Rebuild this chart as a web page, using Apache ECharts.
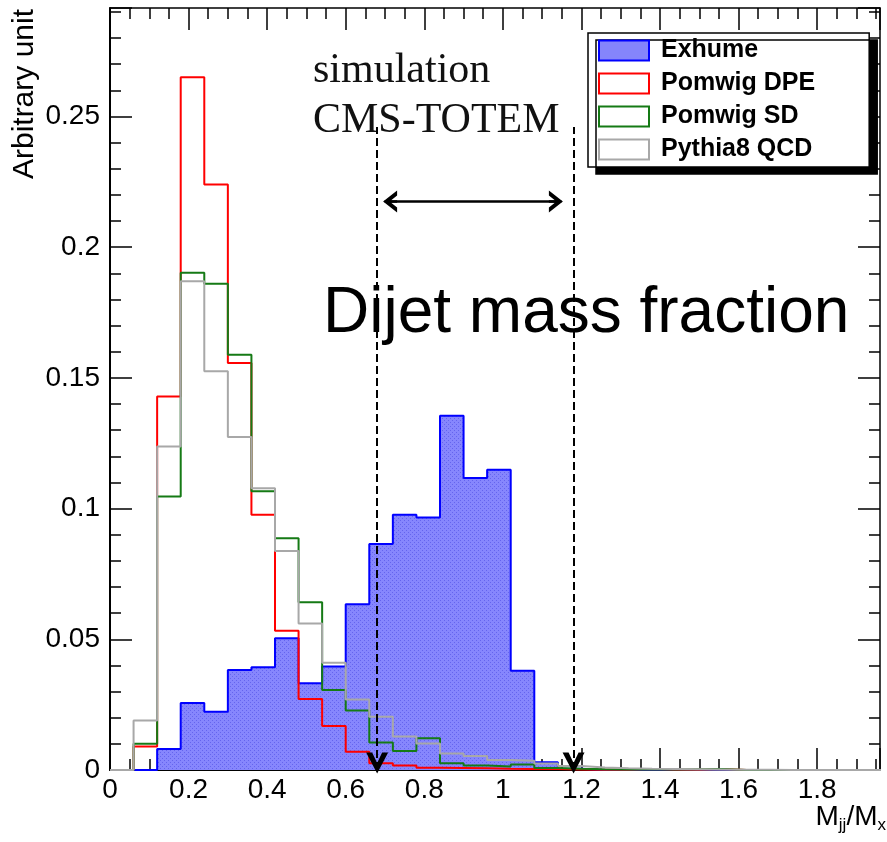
<!DOCTYPE html>
<html>
<head>
<meta charset="utf-8">
<script src="https://cdn.jsdelivr.net/npm/echarts@6/dist/echarts.min.js"></script>
<style>
  html, body { margin: 0; padding: 0; background: #fff; }
  #chart { width: 887px; height: 842px; }
</style>
</head>
<body>
<div id="chart"></div>
<script>
// Bin edges of the M_jj/M_x histograms (width 0.06)
const binEdges = [0, 0.06, 0.12, 0.18, 0.24, 0.30, 0.36, 0.42, 0.48, 0.54, 0.60,
  0.66, 0.72, 0.78, 0.84, 0.90, 0.96, 1.02, 1.08, 1.14, 1.20, 1.26, 1.32, 1.38,
  1.44, 1.50, 1.56, 1.62, 1.68, 1.74, 1.80, 1.86, 1.92, 1.98];

// Normalised bin contents, one value per bin
const exhume = [0, 0, 0.0080, 0.0256, 0.0223, 0.0383, 0.0393, 0.0504, 0.0332, 0.0396,
  0.0634, 0.0865, 0.0976, 0.0966, 0.1355, 0.1117, 0.1149, 0.0380, 0.0030, 0.0005,
  0, 0, 0, 0, 0, 0, 0, 0, 0, 0, 0, 0, 0];
const pomwigDPE = [0, 0.0090, 0.1429, 0.2650, 0.2240, 0.1557, 0.0976, 0.0533, 0.0272, 0.0168,
  0.0070, 0.0026, 0.0017, 0.0009, 0.0008, 0.0007, 0.0005, 0.0004, 0.0004, 0.0002,
  0.0001, 0.0001, 0.0004, 0.0001, 0.0001, 0.0004, 0, 0, 0, 0, 0, 0, 0];
const pomwigSD = [0, 0.0100, 0.1046, 0.1902, 0.1860, 0.1589, 0.1066, 0.0887, 0.0642, 0.0306,
  0.0228, 0.0105, 0.0073, 0.0121, 0.0026, 0.0017, 0.0013, 0.0021, 0.0008, 0.0005,
  0.0003, 0.0002, 0.0002, 0.0002, 0.0003, 0.0004, 0, 0, 0, 0, 0, 0, 0];
const pythia8QCD = [0, 0.0189, 0.1238, 0.1870, 0.1525, 0.1274, 0.1078, 0.0838, 0.0560, 0.0410,
  0.0270, 0.0204, 0.0128, 0.0101, 0.0063, 0.0054, 0.0038, 0.0035, 0.0025, 0.0015,
  0.0010, 0.0007, 0.0005, 0.0004, 0.0003, 0.0002, 0.0001, 0.0001, 0, 0, 0, 0, 0];

const seriesNames = ['Exhume', 'Pomwig DPE', 'Pomwig SD', 'Pythia8 QCD'];

// Axis settings
const xMin = 0, xMax = 1.96, xStep = 0.2;
const yMin = 0, yMax = 0.2915, yStep = 0.05;

// Dijet mass fraction window and its double arrow
const windowEdges = [0.68, 1.18];
const windowTop = 0.246;
const arrowSpan = [0.713, 1.135];
const arrowLevel = 0.2175;

// Turn bin contents into a stepped outline (ROOT-style histogram)
function histPoints(values) {
  const pts = [[binEdges[0], 0]];
  values.forEach((v, i) => pts.push([binEdges[i], v]));
  const n = values.length;
  pts.push([binEdges[n], values[n - 1]]);
  pts.push([binEdges[n], 0]);
  return pts;
}

// Dotted fill used for the Exhume histogram
const dotCanvas = document.createElement('canvas');
dotCanvas.width = 4; dotCanvas.height = 4;
(function () {
  const c = dotCanvas.getContext('2d');
  c.fillStyle = '#8686fd';
  c.fillRect(0, 0, 4, 4);
  c.fillStyle = '#6464ee';
  c.fillRect(0, 0, 1, 1);
  c.fillRect(2, 2, 1, 1);
})();

// Open chevrons: downward "v" at the axis, arrow heads for the double arrow
const vDown = 'path://M0,0 L11,21 L22,0 L16,0 L11,10.5 L6,0 Z';
const headUp = 'path://M0,14 L11,0 L22,14 L17,14 L11,6.5 L5,14 Z M9.7,1 L12.3,1 L12.3,14 L9.7,14 Z';

const sans = 'Liberation Sans, Arial, Helvetica, sans-serif';
const serif = 'Liberation Serif, Times New Roman, serif';

function histSeries(name, values, color, extra) {
  return Object.assign({
    name: name,
    type: 'line',
    step: 'end',
    data: histPoints(values),
    showSymbol: false,
    symbol: 'none',
    clip: true,
    lineStyle: { color: color, width: 2 },
    itemStyle: { color: color },
    emphasis: { disabled: true },
    animation: false
  }, extra || {});
}

const chart = echarts.init(document.getElementById('chart'), null, { renderer: 'canvas' });

const axisTickStyle = { color: '#000', width: 1.5 };

chart.setOption({
  backgroundColor: '#fff',
  animation: false,
  grid: { left: 110, right: 7, top: 8, bottom: 72 },
  xAxis: [
    {
      type: 'value', position: 'bottom', min: xMin, max: xMax, interval: xStep,
      axisLine: { show: true, onZero: false, lineStyle: { color: '#000', width: 2 } },
      axisTick: { show: true, inside: true, length: 22, lineStyle: axisTickStyle },
      minorTick: { show: true, splitNumber: 4, length: 11, lineStyle: axisTickStyle },
      axisLabel: { show: true, margin: 6, color: '#000', fontSize: 28, fontFamily: sans, showMaxLabel: false },
      splitLine: { show: false }
    },
    {
      type: 'value', position: 'top', min: xMin, max: xMax, interval: xStep,
      axisLine: { show: true, onZero: false, lineStyle: { color: '#000', width: 1.5 } },
      axisTick: { show: true, inside: true, length: 22, lineStyle: axisTickStyle },
      minorTick: { show: true, splitNumber: 4, length: 11, lineStyle: axisTickStyle },
      axisLabel: { show: false },
      splitLine: { show: false }
    }
  ],
  yAxis: [
    {
      type: 'value', position: 'left', min: yMin, max: yMax, interval: yStep,
      axisLine: { show: true, onZero: false, lineStyle: { color: '#000', width: 2 } },
      axisTick: { show: true, inside: true, length: 22, lineStyle: axisTickStyle },
      minorTick: { show: true, splitNumber: 5, length: 11, lineStyle: axisTickStyle },
      axisLabel: { show: true, margin: 10, color: '#000', fontSize: 28, fontFamily: sans, showMaxLabel: false },
      splitLine: { show: false }
    },
    {
      type: 'value', position: 'right', min: yMin, max: yMax, interval: yStep,
      axisLine: { show: true, onZero: false, lineStyle: { color: '#000', width: 1.5 } },
      axisTick: { show: true, inside: true, length: 22, lineStyle: axisTickStyle },
      minorTick: { show: true, splitNumber: 5, length: 11, lineStyle: axisTickStyle },
      axisLabel: { show: false },
      splitLine: { show: false }
    }
  ],
  legend: {
    orient: 'vertical',
    left: 588, top: 33,
    padding: [5, 54, 5, 10],
    itemGap: 8,
    itemWidth: 50,
    itemHeight: 20,
    icon: 'rect',
    selectedMode: false,
    backgroundColor: '#fff',
    borderColor: '#000',
    borderWidth: 1.5,
    shadowColor: '#000',
    shadowBlur: 0,
    shadowOffsetX: 8,
    shadowOffsetY: 7,
    textStyle: { color: '#000', fontSize: 25, fontWeight: 'bold', fontFamily: sans, padding: [0, 0, 0, 7] },
    data: [
      { name: seriesNames[0], itemStyle: { color: '#8585fb', borderColor: '#0000ff', borderWidth: 2 } },
      { name: seriesNames[1], itemStyle: { color: '#fff', borderColor: '#ff0000', borderWidth: 2 } },
      { name: seriesNames[2], itemStyle: { color: '#fff', borderColor: '#157a15', borderWidth: 2 } },
      { name: seriesNames[3], itemStyle: { color: '#fff', borderColor: '#a8a8a8', borderWidth: 2 } }
    ]
  },
  series: [
    histSeries(seriesNames[0], exhume, '#0000ff', {
      areaStyle: { color: { image: dotCanvas, repeat: 'repeat' }, opacity: 1 }
    }),
    histSeries(seriesNames[1], pomwigDPE, '#ff0000'),
    histSeries(seriesNames[2], pomwigSD, '#157a15'),
    histSeries(seriesNames[3], pythia8QCD, '#a8a8a8'),
    {
      name: 'window',
      type: 'line',
      data: [],
      silent: true,
      z: 5,
      markLine: {
        silent: true,
        animation: false,
        symbol: ['none', 'none'],
        label: { show: false },
        emphasis: { disabled: true },
        lineStyle: { color: '#000', type: [8, 4], width: 2 },
        data: [
          [{ coord: [windowEdges[0], 0] }, { coord: [windowEdges[0], windowTop] }],
          [{ coord: [windowEdges[1], 0] }, { coord: [windowEdges[1], windowTop] }],
          [
            { coord: [arrowSpan[0], arrowLevel], symbol: headUp, symbolSize: [22, 14],
              lineStyle: { type: 'solid', width: 2.5, color: '#000' } },
            { coord: [arrowSpan[1], arrowLevel], symbol: headUp, symbolSize: [22, 14] }
          ]
        ]
      },
      markPoint: {
        silent: true,
        animation: false,
        symbol: vDown,
        symbolSize: [22, 21],
        symbolOffset: [0, -7],
        itemStyle: { color: '#000' },
        label: { show: false },
        data: [
          { coord: [windowEdges[0], 0] },
          { coord: [windowEdges[1], 0] }
        ]
      }
    }
  ],
  graphic: [
    {
      type: 'text', x: 313, y: 71, silent: true,
      style: { text: 'simulation', font: '42px ' + serif, fill: '#111',
        textAlign: 'left', align: 'left', textVerticalAlign: 'middle', verticalAlign: 'middle' }
    },
    {
      type: 'text', x: 313, y: 121, silent: true,
      style: { text: 'CMS-TOTEM', font: '42px ' + serif, fill: '#111',
        textAlign: 'left', align: 'left', textVerticalAlign: 'middle', verticalAlign: 'middle' }
    },
    {
      type: 'text', x: 323, y: 314, silent: true, z: 10,
      style: { text: 'Dijet mass fraction', font: '64px ' + sans, fill: '#000',
        textAlign: 'left', align: 'left', textVerticalAlign: 'middle', verticalAlign: 'middle' }
    },
    {
      type: 'text', x: 25, y: 9, rotation: Math.PI / 2, silent: true,
      style: { text: 'Arbitrary unit', font: '30px ' + sans, fill: '#000',
        textAlign: 'right', align: 'right', textVerticalAlign: 'middle', verticalAlign: 'middle' }
    },
    {
      type: 'text', x: 886, y: 801, silent: true,
      style: {
        text: 'M{s|jj}/M{s|x}',
        font: '28px ' + sans, fill: '#000',
        textAlign: 'right', align: 'right', textVerticalAlign: 'top', verticalAlign: 'top',
        rich: { s: { fontSize: 17, fontFamily: sans, padding: [16, 0, 0, 0] } }
      }
    }
  ]
});
</script>
</body>
</html>
